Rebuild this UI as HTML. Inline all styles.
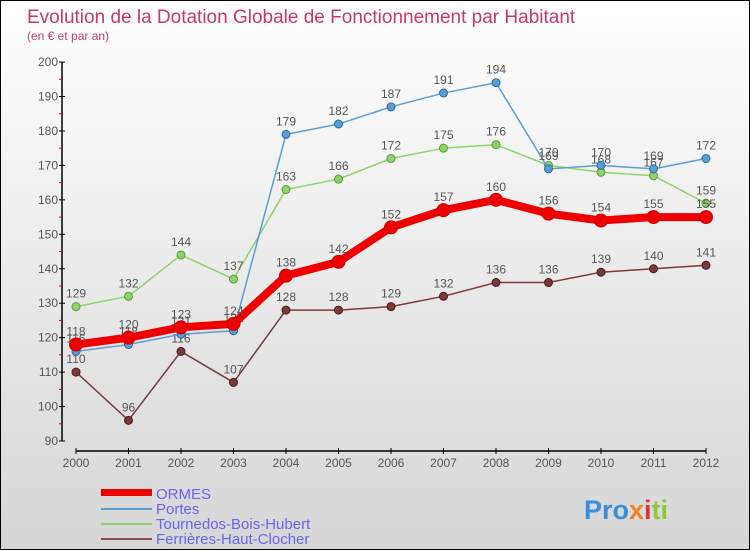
<!DOCTYPE html>
<html><head><meta charset="utf-8"><style>
body{margin:0}
#c{width:748px;height:548px;border:1px solid #000;background:linear-gradient(#fff,#d6d6d6);position:relative;font-family:"Liberation Sans",sans-serif;overflow:hidden}
</style></head><body>
<div id="c">
<svg id="s" width="748" height="548">
<text x="26" y="22" font-size="19" fill="#c8386a">Evolution de la Dotation Globale de Fonctionnement par Habitant</text>
<text x="26" y="39" font-size="12" fill="#c8386a">(en € et par an)</text>
<g id="axes"></g><g id="series"></g>
<g>
<rect x="100" y="488" width="51" height="7" fill="#e00"/>
<text x="155" y="498" font-size="15" fill="#6666ee">ORMES</text>
<line x1="100" y1="508" x2="151" y2="508" stroke="#5a9fd4" stroke-width="2"/>
<text x="155" y="513" font-size="15" fill="#6666ee">Portes</text>
<line x1="100" y1="523" x2="151" y2="523" stroke="#8fd46a" stroke-width="2"/>
<text x="155" y="528" font-size="15" fill="#6666ee">Tournedos-Bois-Hubert</text>
<line x1="100" y1="538" x2="151" y2="538" stroke="#8a5050" stroke-width="2"/>
<text x="155" y="543" font-size="15" fill="#6666ee">Ferrières-Haut-Clocher</text>
</g>
<text x="583" y="518" font-size="27" font-weight="bold" fill="#3a8fd8">Pro<tspan fill="#f08020">x</tspan><tspan fill="#e03040">i</tspan><tspan fill="#8cc83c">ti</tspan></text>
</svg></div>
<script>
const years=[2000,2001,2002,2003,2004,2005,2006,2007,2008,2009,2010,2011,2012];
const ormes=[118,120,123,124,138,142,152,157,160,156,154,155,155];
const portes=[116,118,121,122,179,182,187,191,194,169,170,169,172];
const tournedos=[129,132,144,137,163,166,172,175,176,170,168,167,159];
const ferrieres=[110,96,116,107,128,128,129,132,136,136,139,140,141];
const yTicks=[90,100,110,120,130,140,150,160,170,180,190,200];
const NS="http://www.w3.org/2000/svg";
const X=i=>75+i*52.5, Y=v=>440-(v-90)*3.445;
function mk(t,a,p){const e=document.createElementNS(NS,t);for(const k in a)e.setAttribute(k,a[k]);p.appendChild(e);return e;}
const ax=document.getElementById('axes'), sr=document.getElementById('series');
let l=mk('line',{x1:61,y1:Y(200),x2:61,y2:Y(90),stroke:'#000','stroke-width':1.5},ax);


l=mk('line',{x1:X(0),y1:450,x2:X(12),y2:450,stroke:'#000','stroke-width':1.5},ax);


yTicks.forEach(v=>{mk('line',{x1:58,y1:Y(v),x2:64,y2:Y(v),stroke:'#000'},ax);
 if(v<200)mk('line',{x1:58,y1:Y(v+5),x2:61,y2:Y(v+5),stroke:'#e00'},ax);
 const t=mk('text',{x:57,y:Y(v)+4,'font-size':12,fill:'#555','text-anchor':'end'},ax);t.textContent=v;
 
 });
years.forEach((y,i)=>{mk('line',{x1:X(i),y1:447,x2:X(i),y2:453,stroke:'#000'},ax);
 const t=mk('text',{x:X(i),y:466,'font-size':12,fill:'#555','text-anchor':'middle'},ax);t.textContent=y;
 
 });
function series(d,col,w,r,name,dark){const g=mk('g',{},sr);
 
 
 mk('polyline',{points:d.map((v,i)=>X(i)+','+Y(v)).join(' '),fill:'none',stroke:col,'stroke-width':w,'stroke-linejoin':'round'},g);
 d.forEach((v,i)=>{const c=mk('circle',{cx:X(i),cy:Y(v),r:r,fill:col,stroke:dark,'stroke-width':1},g);
  
  
  const t=mk('text',{x:X(i),y:Y(v)-9,'font-size':12,fill:'#555','text-anchor':'middle'},g);t.textContent=v;});}
series(ferrieres,'#7a3a3a',1.5,4,'ferrieres','#4a1a1a');
series(tournedos,'#8fd46a',1.5,4,'tournedos','#5a9a3a');
series(portes,'#5a9fd4',1.5,4,'portes','#2a6aa0');
series(ormes,'#e00',8,6.5,'ormes','#c00');
</script>
</body></html>
